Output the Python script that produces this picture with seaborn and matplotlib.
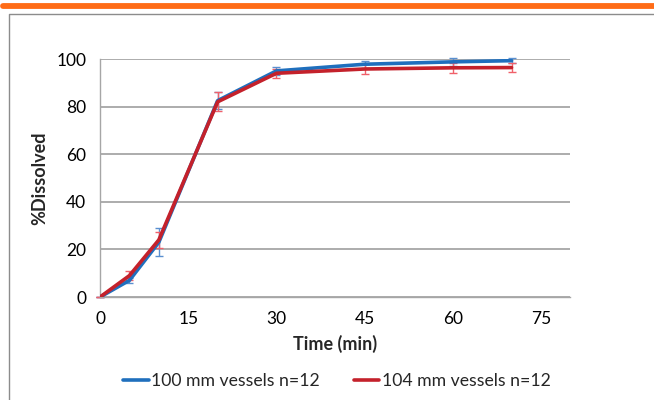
import numpy as np
import pandas as pd
import matplotlib
matplotlib.use("Agg")
import matplotlib.pyplot as plt
from matplotlib.lines import Line2D
import seaborn as sns

# ---- data ----
times = [0, 5, 10, 20, 30, 45, 60, 70]
vessel_100 = [0, 7, 23, 82.5, 95, 97.8, 98.8, 99.3]
vessel_100_err = [0, 1.0, 5.8, 3.5, 1.8, 1.5, 1.7, 1.0]
vessel_104 = [0, 9, 24, 82, 94, 95.8, 96.3, 96.4]
vessel_104_err = [0, 2.0, 3.4, 4.0, 2.0, 2.2, 2.0, 2.0]
series_names = ["100 mm vessels n=12", "104 mm vessels n=12"]
x_ticks = [0, 15, 30, 45, 60, 75]
y_ticks = [0, 20, 40, 60, 80, 100]

line_colors = ["#1f6fbd", "#c4212b"]
err_colors = ["#5a8fd0", "#f0606a"]

df = pd.DataFrame({
    "time": times * 2,
    "dissolved": vessel_100 + vessel_104,
    "series": [series_names[0]] * len(times) + [series_names[1]] * len(times),
})

sns.set_style("white")
plt.rcParams["font.family"] = ["Lato", "DejaVu Sans"]

fig = plt.figure(figsize=(6.54, 4.0), dpi=100)
ax = fig.add_axes([0.153, 0.2575, 0.719, 0.595])

# frame + orange header bar
fig.add_artist(Line2D([0.005, 1.0], [0.9855, 0.9855], color="#ff6c17", lw=4.2,
                      transform=fig.transFigure))
fig.add_artist(Line2D([0.0135, 0.0135, 1.0], [0.0, 0.965, 0.965], color="#8c8c8c", lw=1.0,
                      transform=fig.transFigure))

# error bars first, lines on top
for vals, errs, c in [(vessel_100, vessel_100_err, err_colors[0]),
                      (vessel_104, vessel_104_err, err_colors[1])]:
    ax.errorbar(times, vals, yerr=errs, fmt="none", ecolor=c, elinewidth=1.0,
                capsize=3, capthick=1.0, clip_on=False, zorder=2)

sns.lineplot(data=df, x="time", y="dissolved", hue="series",
             palette=dict(zip(series_names, line_colors)), linewidth=2.6,
             ax=ax, zorder=3, legend=False)

ax.set_xlim(0, 80)
ax.set_ylim(0, 100)
ax.set_xticks(x_ticks)
ax.set_yticks(y_ticks)
ax.yaxis.grid(True, color="#a6a6a6", lw=1.3)
ax.set_axisbelow(True)
for s in ["top", "right"]:
    ax.spines[s].set_visible(False)
for s in ["left", "bottom"]:
    ax.spines[s].set_color("#a6a6a6")
    ax.spines[s].set_linewidth(1.0)
ax.tick_params(axis="both", direction="out", length=4, width=1, color="#a6a6a6",
               labelsize=12.5, labelcolor="black", pad=6)

ax.set_xlabel("Time (min)", fontsize=13, fontweight="bold", labelpad=6)
ax.set_ylabel("%Dissolved", fontsize=13, fontweight="bold", labelpad=6)

handles = [Line2D([], [], color=c, lw=2.6) for c in line_colors]
fig.legend(handles, series_names, loc="center", bbox_to_anchor=(0.515, 0.047),
           ncol=2, frameon=False, fontsize=12.7, handlelength=1.45, handletextpad=0.15,
           columnspacing=1.9)

fig.savefig("out.png", dpi=100)
